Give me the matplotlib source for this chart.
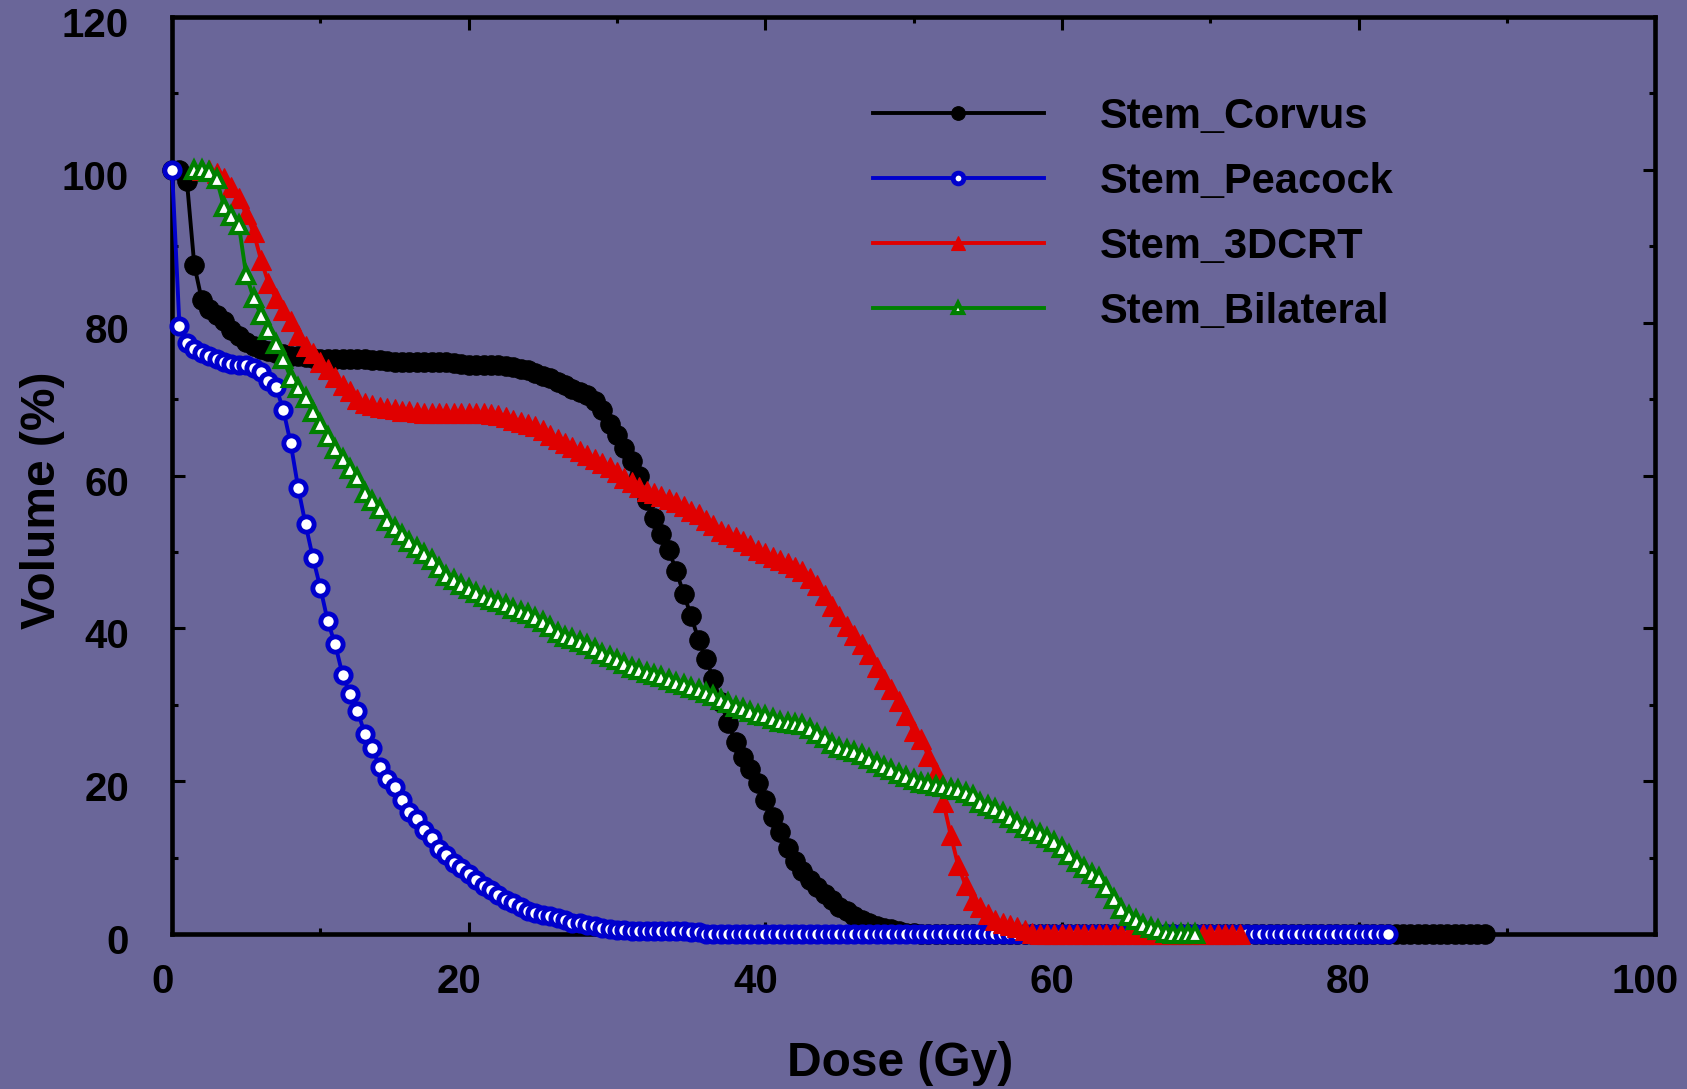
import matplotlib
matplotlib.use('Agg')
import matplotlib.pyplot as plt
import matplotlib.transforms as mtransforms
from matplotlib.ticker import MultipleLocator

plt.rcParams['font.family'] = ['Liberation Sans', 'DejaVu Sans']
plt.rcParams['font.weight'] = 'bold'

# ---------------- data ----------------
dose = [0, 0.5, 1, 1.5, 2, 2.5, 3, 3.5, 4, 4.5,
        5, 5.5, 6, 6.5, 7, 7.5, 8, 8.5, 9, 9.5,
        10, 10.5, 11, 11.5, 12, 12.5, 13, 13.5, 14, 14.5,
        15, 15.5, 16, 16.5, 17, 17.5, 18, 18.5, 19, 19.5,
        20, 20.5, 21, 21.5, 22, 22.5, 23, 23.5, 24, 24.5,
        25, 25.5, 26, 26.5, 27, 27.5, 28, 28.5, 29, 29.5,
        30, 30.5, 31, 31.5, 32, 32.5, 33, 33.5, 34, 34.5,
        35, 35.5, 36, 36.5, 37, 37.5, 38, 38.5, 39, 39.5,
        40, 40.5, 41, 41.5, 42, 42.5, 43, 43.5, 44, 44.5,
        45, 45.5, 46, 46.5, 47, 47.5, 48, 48.5, 49, 49.5,
        50, 50.5, 51, 51.5, 52, 52.5, 53, 53.5, 54, 54.5,
        55, 55.5, 56, 56.5, 57, 57.5, 58, 58.5, 59, 59.5,
        60, 60.5, 61, 61.5, 62, 62.5, 63, 63.5, 64, 64.5,
        65, 65.5, 66, 66.5, 67, 67.5, 68, 68.5, 69, 69.5,
        70, 70.5, 71, 71.5, 72, 72.5, 73, 73.5, 74, 74.5,
        75, 75.5, 76, 76.5, 77, 77.5, 78, 78.5, 79, 79.5,
        80, 80.5, 81, 81.5, 82, 82.5, 83, 83.5, 84, 84.5,
        85, 85.5, 86, 86.5, 87, 87.5, 88, 88.5, 89]

# Stem_Corvus: dose 0 .. 88.5
corvus_start = 0
corvus = [100, 100, 98.5, 87.5, 83, 81.8, 81, 80.2, 79, 78.2,
          77.5, 77, 76.6, 76.3, 76, 75.9, 75.7, 75.6, 75.5, 75.4,
          75.3, 75.3, 75.3, 75.3, 75.2, 75.2, 75.2, 75.1, 75.1, 75.0,
          74.9, 74.9, 74.9, 74.9, 74.9, 74.8, 74.8, 74.8, 74.7, 74.6,
          74.5, 74.5, 74.5, 74.4, 74.4, 74.3, 74.2, 74.0, 73.8, 73.4,
          73.0, 72.7, 72.3, 71.8, 71.3, 70.9, 70.5, 69.7, 68.6, 66.8,
          65.3, 63.6, 61.9, 59.9, 56.8, 54.5, 52.3, 50.2, 47.5, 44.5,
          41.6, 38.5, 36.0, 33.4, 30.3, 27.6, 25.1, 23.2, 21.6, 19.8,
          17.6, 15.3, 13.4, 11.3, 9.5, 8.3, 7.1, 6.1, 5.2, 4.4,
          3.6, 3.0, 2.4, 1.9, 1.5, 1.1, 0.8, 0.6, 0.4, 0.2,
          0.1,
          0, 0, 0, 0, 0, 0, 0, 0, 0, 0, 0, 0, 0, 0, 0, 0, 0, 0, 0, 0,
          0, 0, 0, 0, 0, 0, 0, 0, 0, 0, 0, 0, 0, 0, 0, 0, 0, 0, 0, 0,
          0, 0, 0, 0, 0, 0, 0, 0, 0, 0, 0, 0, 0, 0, 0, 0, 0, 0, 0, 0,
          0, 0, 0, 0, 0, 0, 0, 0, 0, 0, 0, 0, 0, 0, 0, 0, 0]

# Stem_Peacock: dose 0 .. 82
peacock_start = 0
peacock = [100, 79.5, 77.3, 76.5, 76.0, 75.6, 75.3, 74.9, 74.6, 74.5,
           74.4, 74.1, 73.6, 72.4, 71.6, 68.6, 64.2, 58.4, 53.6, 49.2,
           45.3, 40.9, 37.9, 33.9, 31.4, 29.2, 26.2, 24.3, 21.9, 20.3,
           19.2, 17.6, 16.0, 15.0, 13.6, 12.6, 11.1, 10.3, 9.3, 8.6,
           7.9, 7.1, 6.3, 5.7, 5.1, 4.5, 4.1, 3.6, 3.0, 2.7,
           2.5, 2.3, 2.1, 1.8, 1.5, 1.4, 1.2, 1.0, 0.8, 0.6,
           0.5, 0.5, 0.4, 0.4, 0.4, 0.4, 0.4, 0.4, 0.4, 0.4, 0.3, 0.3,
           0, 0, 0, 0, 0, 0, 0, 0, 0, 0, 0, 0, 0, 0, 0, 0, 0, 0, 0, 0,
           0, 0, 0, 0, 0, 0, 0, 0, 0, 0, 0, 0, 0, 0, 0, 0, 0, 0, 0, 0,
           0, 0, 0, 0, 0, 0, 0, 0, 0, 0, 0, 0, 0, 0, 0, 0, 0, 0, 0, 0,
           0, 0, 0, 0, 0, 0, 0, 0, 0, 0, 0, 0, 0, 0, 0, 0, 0, 0, 0, 0,
           0, 0, 0, 0, 0, 0, 0, 0, 0, 0, 0, 0, 0]

# Stem_3DCRT: dose 2 .. 72
crt_start = 4
crt = [100, 100, 99.6, 98.9, 97.8, 96.3,
       94.2, 91.8, 88.2, 85.2, 83.2, 81.6, 80.2, 78.4, 77.0, 76.0,
       74.9, 74.0, 72.9, 71.9, 71.0, 70.0, 69.5, 69.2, 69.0, 68.8,
       68.7, 68.5, 68.4, 68.3, 68.2, 68.2, 68.2, 68.2, 68.2, 68.2,
       68.2, 68.2, 68.2, 68.1, 67.9, 67.6, 67.3, 67.0, 66.8, 66.5,
       65.9, 65.3, 64.8, 64.2, 63.7, 63.2, 62.7, 62.2, 61.7, 61.1,
       60.4, 59.7, 59.1, 58.5, 58.0, 57.7, 57.3, 56.9, 56.5, 56.0,
       55.4, 54.9, 54.2, 53.5, 52.8, 52.3, 51.9, 51.4, 50.9, 50.3,
       49.8, 49.3, 48.9, 48.5, 48.0, 47.5, 46.6, 45.7, 44.3, 42.9,
       41.6, 40.3, 39.1, 37.9, 36.6, 35.0, 33.4, 32.0, 30.5, 28.6,
       26.6, 25.5, 23.3, 21.2, 17.3, 13.0, 9.0, 6.4, 4.5, 3.5,
       2.6, 1.9, 1.5, 1.2, 0.9, 0.5, 0.2, 0, 0, 0,
       0, 0, 0, 0, 0, 0, 0, 0, 0, 0, 0, 0, 0, 0, 0, 0, 0, 0, 0, 0,
       0, 0, 0, 0, 0]

# Stem_Bilateral: dose 1.5 .. 69
bil_start = 3
bilateral = [100, 100, 99.7, 98.8, 95.2, 94.0, 92.8,
             86.2, 83.2, 81.0, 79.0, 77.2, 75.2, 72.8, 71.5, 70.2, 68.3,
             66.7, 65.0, 63.5, 62.2, 60.9, 59.7, 57.7, 56.6, 55.6, 54.1,
             53.1, 52.2, 51.3, 50.5, 49.7, 48.9, 47.9, 46.9, 46.3, 45.7,
             45.1, 44.6, 44.1, 43.7, 43.4, 43.0, 42.5, 42.2, 41.9, 41.4,
             40.8, 40.2, 39.4, 38.9, 38.6, 38.2, 37.8, 37.3, 36.6, 36.2,
             35.9, 35.3, 34.8, 34.5, 34.2, 33.9, 33.6, 33.2, 32.9, 32.6,
             32.2, 31.9, 31.5, 31.1, 30.6, 30.2, 29.7, 29.4, 29.0, 28.7,
             28.5, 28.2, 27.8, 27.6, 27.5, 27.4, 26.8, 26.2, 25.6, 24.9,
             24.3, 24.1, 23.8, 23.4, 22.9, 22.4, 21.9, 21.5, 21.0, 20.5,
             20.1, 19.8, 19.6, 19.4, 19.2, 19.0, 18.8, 18.5, 18.1, 17.2,
             16.7, 16.3, 15.8, 15.2, 14.5, 13.9, 13.5, 13.1, 12.6, 12.0,
             11.3, 10.3, 9.4, 8.7, 7.9, 7.3, 6.0, 4.6, 3.3, 2.4,
             1.8, 1.2, 0.8, 0.5, 0.2, 0, 0, 0, 0]

labels = ['Stem_Corvus', 'Stem_Peacock', 'Stem_3DCRT', 'Stem_Bilateral']
x_ticks = [0, 20, 40, 60, 80, 100]
y_ticks = [0, 20, 40, 60, 80, 100, 120]

# ---------------- figure ----------------
BG = '#6a6699'
fig = plt.figure(figsize=(16.87, 10.89), dpi=100, facecolor=BG)
ax = fig.add_axes([0.1020, 0.1423, 0.8791, 0.8421])
ax.set_facecolor(BG)

common = dict(clip_on=False, lw=2.8)
ax.plot(dose[corvus_start:corvus_start + len(corvus)], corvus, color='black',
        marker='o', ms=14, mfc='black', mec='black', mew=0.8, label=labels[0], zorder=4, **common)
ax.plot(dose[peacock_start:peacock_start + len(peacock)], peacock, color='#0000cc',
        marker='o', ms=11, mfc='white', mec='#0000cc', mew=3.5, label=labels[1], zorder=5, **common)
ax.plot(dose[crt_start:crt_start + len(crt)], crt, color='#e00000',
        marker='^', ms=14, mfc='#e00000', mec='#e00000', mew=0.8, label=labels[2], zorder=6, **common)
ax.plot(dose[bil_start:bil_start + len(bilateral)], bilateral, color='#008000',
        marker='^', ms=11, mfc='white', mec='#008000', mew=3.0, label=labels[3], zorder=7, **common)

ax.set_xlim(0, 100)
ax.set_ylim(0, 120)
ax.set_xticks(x_ticks)
ax.set_yticks(y_ticks)
ax.xaxis.set_minor_locator(MultipleLocator(10))
ax.yaxis.set_minor_locator(MultipleLocator(10))

for s in ax.spines.values():
    s.set_linewidth(3.3)
    s.set_color('black')

ax.tick_params(which='both', direction='in', top=True, right=True, width=2.2, color='black')
ax.tick_params(which='major', length=9)
ax.tick_params(which='minor', length=4.5)
ax.tick_params(axis='x', which='major', pad=21, labelsize=29)
ax.tick_params(axis='y', which='major', pad=31, labelsize=29)
for t in ax.get_xticklabels() + ax.get_yticklabels():
    t.set_fontweight('bold')
xoff = mtransforms.ScaledTranslation(-0.10, 0, fig.dpi_scale_trans)
for t in ax.get_xticklabels():
    t.set_transform(t.get_transform() + xoff)
yoff = mtransforms.ScaledTranslation(0, -0.05, fig.dpi_scale_trans)
for t in ax.get_yticklabels():
    t.set_transform(t.get_transform() + yoff)

ax.set_xlabel('Dose (Gy)', fontsize=34.5, fontweight='bold')
ax.set_ylabel('Volume (%)', fontsize=34.5, fontweight='bold')
ax.xaxis.set_label_coords(0.491, -0.117)
ax.yaxis.set_label_coords(-0.072, 0.473)

leg = ax.legend(loc='upper left', bbox_to_anchor=(856 / 1687, 1 - 80 / 1089),
                bbox_transform=fig.transFigure, frameon=False,
                prop={'family': 'Liberation Sans', 'weight': 'bold', 'size': 30},
                handlelength=4.1, handletextpad=1.35, labelspacing=0.60,
                borderaxespad=0, markerscale=0.7, numpoints=1)

fig.savefig('out.png', dpi=100, facecolor=BG)
